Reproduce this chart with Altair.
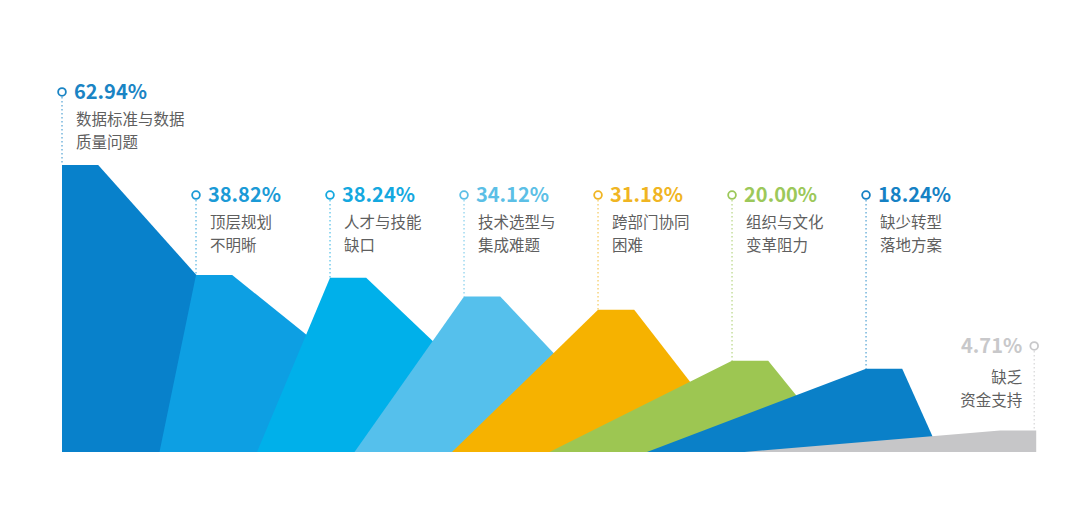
import altair as alt
import pandas as pd

# ---------------- data ----------------
line1 = ["数据标准与数据", "顶层规划", "人才与技能", "技术选型与", "跨部门协同", "组织与文化", "缺少转型", "缺乏"]
line2 = ["质量问题", "不明晰", "缺口", "集成难题", "困难", "变革阻力", "落地方案", "资金支持"]
values = [62.94, 38.82, 38.24, 34.12, 31.18, 20.00, 18.24, 4.71]
value_labels = ["62.94%", "38.82%", "38.24%", "34.12%", "31.18%", "20.00%", "18.24%", "4.71%"]

fill_colors = ["#0881CB", "#0D9FE3", "#00B0EA", "#55C0EC", "#F6B200", "#9DC652", "#0A80C8", "#C6C6C8"]
text_colors = ["#1A84C4", "#1B9AD6", "#14A8DF", "#5CBFE6", "#F0B523", "#9CC85A", "#1581C4", "#C8C8CA"]

# ---------------- layout (slot units) ----------------
N = len(values)
PLATEAU = 0.27        # plateau width
BASE_STEP = 0.7276    # spacing of the shapes' left feet
SPAN = 3              # a shape's foot reaches 3 steps further
PX_PER_UNIT = 4.56    # pixels per percentage point (vertical)
ROW_TOP, ROW_MID, ROW_LOW = 78.95, 56.36, 23.25  # label rows, in value units

shape_rows = []
for i, v in enumerate(values):
    start = i * BASE_STEP
    pl = float(i)
    pr = i + PLATEAU
    end = pr + 1e-4 if i == N - 1 else (i + SPAN) * BASE_STEP
    pts = [(pl, v), (pr, v), (end, 0.0)]
    if start < pl:
        pts = [(start, 0.0)] + pts
    for k, (x, y) in enumerate(pts):
        shape_rows.append({"s": i, "k": k, "x": x, "y": y, "y0": 0.0})
shapes = pd.DataFrame(shape_rows)

label_rows = []
for i, v in enumerate(values):
    last = i == N - 1
    row_y = ROW_TOP if i == 0 else (ROW_LOW if last else ROW_MID)
    ax = (i + PLATEAU - 0.015) if last else float(i)
    label_rows.append({
        "s": i, "x": ax, "ly": row_y, "ry": row_y - 5 / PX_PER_UNIT, "py": v,
        "val": value_labels[i], "l1": line1[i], "l2": line2[i],
        "tc": text_colors[i], "right": last,
    })
labels = pd.DataFrame(label_rows)

xs = alt.Scale(domain=[-0.403, 7.537], nice=False, zero=False)
ys = alt.Scale(domain=[-15.13, 97.37], nice=False, zero=False)
X = lambda f: alt.X(f, scale=xs, axis=None)
Y = lambda f: alt.Y(f, scale=ys, axis=None)

layers = []
for i in range(N):
    d = shapes[shapes["s"] == i].reset_index(drop=True)
    layers.append(
        alt.Chart(d).mark_area(color=fill_colors[i], opacity=1, interpolate="linear").encode(
            x=X("x:Q"), y=Y("y:Q").stack(None), y2="y0:Q"
        )
    )

base = alt.Chart(labels)
rules = base.mark_rule(strokeDash=[1.5, 2.5], strokeWidth=1.2, opacity=0.75).encode(
    x=X("x:Q"), y=Y("ry:Q"), y2="py:Q", color=alt.Color("tc:N", scale=None)
)
rings = base.mark_point(shape="circle", filled=False, size=60, strokeWidth=1.8, opacity=1).encode(
    x=X("x:Q"), y=Y("ly:Q"), color=alt.Color("tc:N", scale=None)
)

FONT = "Noto Sans CJK SC"
left = base.transform_filter("!datum.right")
right = base.transform_filter("datum.right")

val_l = left.mark_text(align="left", baseline="middle", dx=12, dy=1, font=FONT, fontSize=20, fontWeight="bold").encode(
    x=X("x:Q"), y=Y("ly:Q"), text="val:N", color=alt.Color("tc:N", scale=None))
val_r = right.mark_text(align="right", baseline="middle", dx=-12, dy=1, font=FONT, fontSize=20, fontWeight="bold").encode(
    x=X("x:Q"), y=Y("ly:Q"), text="val:N", color=alt.Color("tc:N", scale=None))

cat_style = dict(baseline="middle", font=FONT, fontSize=15.5, color="#5F5F5F")
c1l = left.mark_text(align="left", dx=14, dy=28, **cat_style).encode(x=X("x:Q"), y=Y("ly:Q"), text="l1:N")
c2l = left.mark_text(align="left", dx=14, dy=51, **cat_style).encode(x=X("x:Q"), y=Y("ly:Q"), text="l2:N")
c1r = right.mark_text(align="right", dx=-12, dy=32, **cat_style).encode(x=X("x:Q"), y=Y("ly:Q"), text="l1:N")
c2r = right.mark_text(align="right", dx=-12, dy=55, **cat_style).encode(x=X("x:Q"), y=Y("ly:Q"), text="l2:N")

chart = alt.layer(*layers, rules, rings, val_l, val_r, c1l, c2l, c1r, c2r).properties(
    width=1064, height=513, padding=0, autosize=alt.AutoSizeParams(type="none"), background="white"
).configure_view(stroke=None)

chart.save("out.html", embed_options={"renderer": "svg", "actions": False})
